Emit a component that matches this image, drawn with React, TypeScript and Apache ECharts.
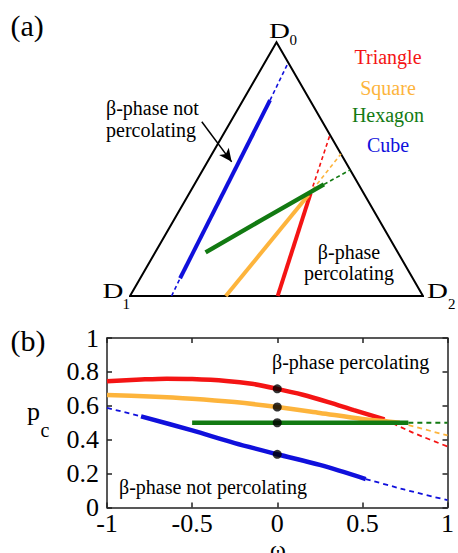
import React, { useEffect, useRef } from "react";
import * as echarts from "echarts";

const H = Math.sqrt(3) / 2;
const SERIF = "Liberation Serif";

// ---------- Panel (a): ternary compositions [share of D0, share of D2] (D1 = remainder)
const vertexD1 = [0, 0];
const vertexD2 = [0, 1];
const vertexD0 = [1, 0];

const triangleSolidA = [[0, 0.504], [0.405, 0.414]];
const triangleDashA = [[0.405, 0.414], [0.635, 0.365]];
const squareSolidA = [[0, 0.327], [0.398, 0.41]];
const squareDashA = [[0.398, 0.41], [0.56, 0.44]];
const hexagonSolidA = [[0.172, 0.172], [0.3, 0.3], [0.44, 0.442]];
const hexagonDashA = [[0.44, 0.442], [0.497, 0.503]];
const cubeDashLowA = [[0, 0.142], [0.07, 0.136]];
const cubeSolidA = [[0.07, 0.136], [0.772, 0.092]];
const cubeDashHighA = [[0.772, 0.092], [0.92, 0.08]];

// arrow annotation, in the triangle's plane coordinates
const arrowA = [[0.245, 0.595], [0.347, 0.458]];

// ---------- Panel (b): p_c versus omega
const omegaTicks = [-1, -0.5, 0, 0.5, 1];
const pcTicks = [0, 0.2, 0.4, 0.6, 0.8, 1];

const triangleSolidB = [
  [-1, 0.745], [-0.8, 0.755], [-0.65, 0.76], [-0.5, 0.758], [-0.3, 0.747],
  [-0.15, 0.73], [0, 0.7], [0.15, 0.665], [0.3, 0.622], [0.45, 0.575], [0.63, 0.52],
];
const triangleDashB = [[0.63, 0.52], [0.8, 0.44], [1, 0.36]];
const squareSolidB = [
  [-1, 0.663], [-0.75, 0.655], [-0.5, 0.642], [-0.25, 0.622], [0, 0.593],
  [0.25, 0.558], [0.5, 0.522], [0.72, 0.5],
];
const squareDashB = [[0.72, 0.5], [1, 0.425]];
const hexagonSolidB = [[-0.5, 0.5], [0.77, 0.5]];
const hexagonDashB = [[0.77, 0.5], [1, 0.5]];
const cubeDashLowB = [[-1, 0.588], [-0.8, 0.538]];
const cubeSolidB = [
  [-0.8, 0.538], [-0.5, 0.455], [-0.25, 0.38], [0, 0.314], [0.25, 0.251], [0.52, 0.168],
];
const cubeDashHighB = [[0.52, 0.168], [0.75, 0.105], [1, 0.043]];
const omegaZeroPoints = [[0, 0.7], [0, 0.593], [0, 0.5], [0, 0.314]];

const RED = "#f41414";
const ORANGE = "#fdb43c";
const GREEN = "#127a12";
const BLUE = "#1010dc";

const toXY = (p: number[]) => [p[1] + p[0] / 2, p[0] * H];

function lineA(data: number[][], color: string, width: number, dashed: boolean, z: number) {
  return {
    type: "line",
    xAxisIndex: 0,
    yAxisIndex: 0,
    data: data.map(toXY),
    symbol: "none",
    showSymbol: false,
    silent: true,
    clip: false,
    z,
    lineStyle: { color, width, type: dashed ? [4, 3] : "solid", cap: "butt" },
  };
}

function lineB(data: number[][], color: string, width: number, dashed: boolean, z: number, smooth = 0) {
  return {
    type: "line",
    xAxisIndex: 1,
    yAxisIndex: 1,
    data,
    symbol: "none",
    showSymbol: false,
    silent: true,
    smooth,
    z,
    lineStyle: { color, width, type: dashed ? [5, 4] : "solid", cap: "butt" },
  };
}

const axisLineStyle = { color: "#222", width: 1.5 };

function txt(text: string, x: number, y: number, fontSize: number, fill = "#000", align = "left", extra: any = {}, lineHeight?: number) {
  return {
    type: "text",
    x,
    y,
    silent: true,
    ...extra,
    style: {
      text,
      fontSize,
      fontFamily: SERIF,
      fill,
      align,
      verticalAlign: "middle",
      lineHeight: lineHeight ?? fontSize,
    },
  };
}

const option: any = {
  animation: false,
  backgroundColor: "#fff",
  textStyle: { fontFamily: SERIF },
  grid: [
    { left: 130, top: 42.3, width: 293, height: 253.7 },
    { left: 107, top: 338, width: 340.5, height: 169.5 },
  ],
  xAxis: [
    { gridIndex: 0, type: "value", min: 0, max: 1, show: false },
    {
      gridIndex: 1,
      type: "value",
      position: "bottom",
      min: omegaTicks[0],
      max: omegaTicks[omegaTicks.length - 1],
      interval: omegaTicks[1] - omegaTicks[0],
      axisLine: { show: true, onZero: false, lineStyle: axisLineStyle },
      axisTick: { show: true, inside: true, length: 5, lineStyle: axisLineStyle },
      axisLabel: { show: true, margin: 5, fontSize: 26, fontFamily: SERIF, color: "#000", lineHeight: 22 },
      splitLine: { show: false },
    },
    {
      gridIndex: 1,
      type: "value",
      position: "top",
      min: omegaTicks[0],
      max: omegaTicks[omegaTicks.length - 1],
      interval: omegaTicks[1] - omegaTicks[0],
      axisLine: { show: true, onZero: false, lineStyle: axisLineStyle },
      axisTick: { show: true, inside: true, length: 5, lineStyle: axisLineStyle },
      axisLabel: { show: false },
      splitLine: { show: false },
    },
  ],
  yAxis: [
    { gridIndex: 0, type: "value", min: 0, max: H, show: false },
    {
      gridIndex: 1,
      type: "value",
      position: "left",
      min: pcTicks[0],
      max: pcTicks[pcTicks.length - 1],
      interval: pcTicks[1] - pcTicks[0],
      axisLine: { show: true, onZero: false, lineStyle: axisLineStyle },
      axisTick: { show: true, inside: true, length: 5, lineStyle: axisLineStyle },
      axisLabel: { show: true, margin: 8, fontSize: 26, fontFamily: SERIF, color: "#000", lineHeight: 22 },
      splitLine: { show: false },
    },
    {
      gridIndex: 1,
      type: "value",
      position: "right",
      min: pcTicks[0],
      max: pcTicks[pcTicks.length - 1],
      interval: pcTicks[1] - pcTicks[0],
      axisLine: { show: true, onZero: false, lineStyle: axisLineStyle },
      axisTick: { show: true, inside: true, length: 5, lineStyle: axisLineStyle },
      axisLabel: { show: false },
      splitLine: { show: false },
    },
  ],
  series: [
    {
      type: "line",
      xAxisIndex: 0,
      yAxisIndex: 0,
      data: [vertexD1, vertexD2, vertexD0, vertexD1, vertexD2].map(toXY),
      symbol: "none",
      showSymbol: false,
      silent: true,
      clip: false,
      z: 2,
      lineStyle: { color: "#000", width: 2, join: "miter", cap: "butt" },
      markLine: {
        silent: true,
        symbol: ["none", "arrow"],
        symbolSize: [9, 13],
        label: { show: false },
        lineStyle: { color: "#000", width: 1.5, type: "solid" },
        emphasis: { disabled: true },
        data: [[{ coord: arrowA[0] }, { coord: arrowA[1] }]],
      },
    },
    lineA(cubeDashLowA, BLUE, 1.6, true, 3),
    lineA(cubeSolidA, BLUE, 4, false, 3),
    lineA(cubeDashHighA, BLUE, 1.6, true, 3),
    lineA(triangleSolidA, RED, 4, false, 3),
    lineA(triangleDashA, RED, 1.6, true, 3),
    lineA(squareSolidA, ORANGE, 4, false, 3),
    lineA(squareDashA, ORANGE, 1.6, true, 3),
    lineA(hexagonSolidA, GREEN, 4.5, false, 4),
    lineA(hexagonDashA, GREEN, 1.6, true, 4),

    lineB(triangleSolidB, RED, 4.5, false, 3, 0.3),
    lineB(triangleDashB, RED, 1.8, true, 3, 0.2),
    lineB(squareSolidB, ORANGE, 4.5, false, 3, 0.3),
    lineB(squareDashB, ORANGE, 1.8, true, 3),
    lineB(cubeDashLowB, BLUE, 1.8, true, 3),
    lineB(cubeSolidB, BLUE, 4.5, false, 3, 0.3),
    lineB(cubeDashHighB, BLUE, 1.8, true, 3, 0.2),
    lineB(hexagonSolidB, GREEN, 4.5, false, 4),
    lineB(hexagonDashB, GREEN, 1.8, true, 4),
    {
      type: "scatter",
      xAxisIndex: 1,
      yAxisIndex: 1,
      data: omegaZeroPoints,
      symbol: "circle",
      symbolSize: 9,
      silent: true,
      z: 6,
      itemStyle: { color: "#000" },
    },
  ],
  graphic: {
    elements: [
      txt("(a)", 10.5, 25.4, 30),
      txt("(b)", 10.5, 340.4, 30),
      txt("D", 269, 31.5, 20, "#000", "left", { scaleX: 1.45 }, 14),
      txt("0", 289.5, 39.5, 15, "#000", "left", {}, 10),
      txt("D", 102.5, 291.5, 20, "#000", "left", { scaleX: 1.45 }, 14),
      txt("1", 122.5, 304, 15, "#000", "left", {}, 10),
      txt("D", 427, 291.5, 20, "#000", "left", { scaleX: 1.45 }, 14),
      txt("2", 448, 304, 15, "#000", "left", {}, 10),
      txt("Triangle", 388, 57.3, 20, RED, "center"),
      txt("Square", 388, 87.5, 20, ORANGE, "center"),
      txt("Hexagon", 388, 115, 20, GREEN, "center"),
      txt("Cube", 388, 145, 20, BLUE, "center"),
      txt("β-phase not", 106, 108.3, 20),
      txt("percolating", 106, 130, 20),
      txt("β-phase", 349, 251.5, 20, "#000", "center"),
      txt("percolating", 349, 273.3, 20, "#000", "center"),
      txt("β-phase percolating", 272, 361.5, 20),
      txt("β-phase not percolating", 119, 486.5, 20),
      txt("p", 27, 411, 26, "#000", "left", {}, 16),
      txt("c", 40.5, 430, 20, "#000", "left", {}, 12),
      txt("ω", 278, 549, 24, "#000", "center", {}, 16),
    ],
  },
};

export default function App() {
  const ref = useRef<HTMLDivElement>(null);
  useEffect(() => {
    const chart = echarts.init(ref.current as HTMLDivElement, null, { renderer: "svg" });
    chart.setOption(option);
    return () => chart.dispose();
  }, []);
  return (
    <div
      ref={ref}
      style={{ position: "absolute", left: 0, top: 0, width: 458, height: 553, background: "#fff" }}
    />
  );
}
